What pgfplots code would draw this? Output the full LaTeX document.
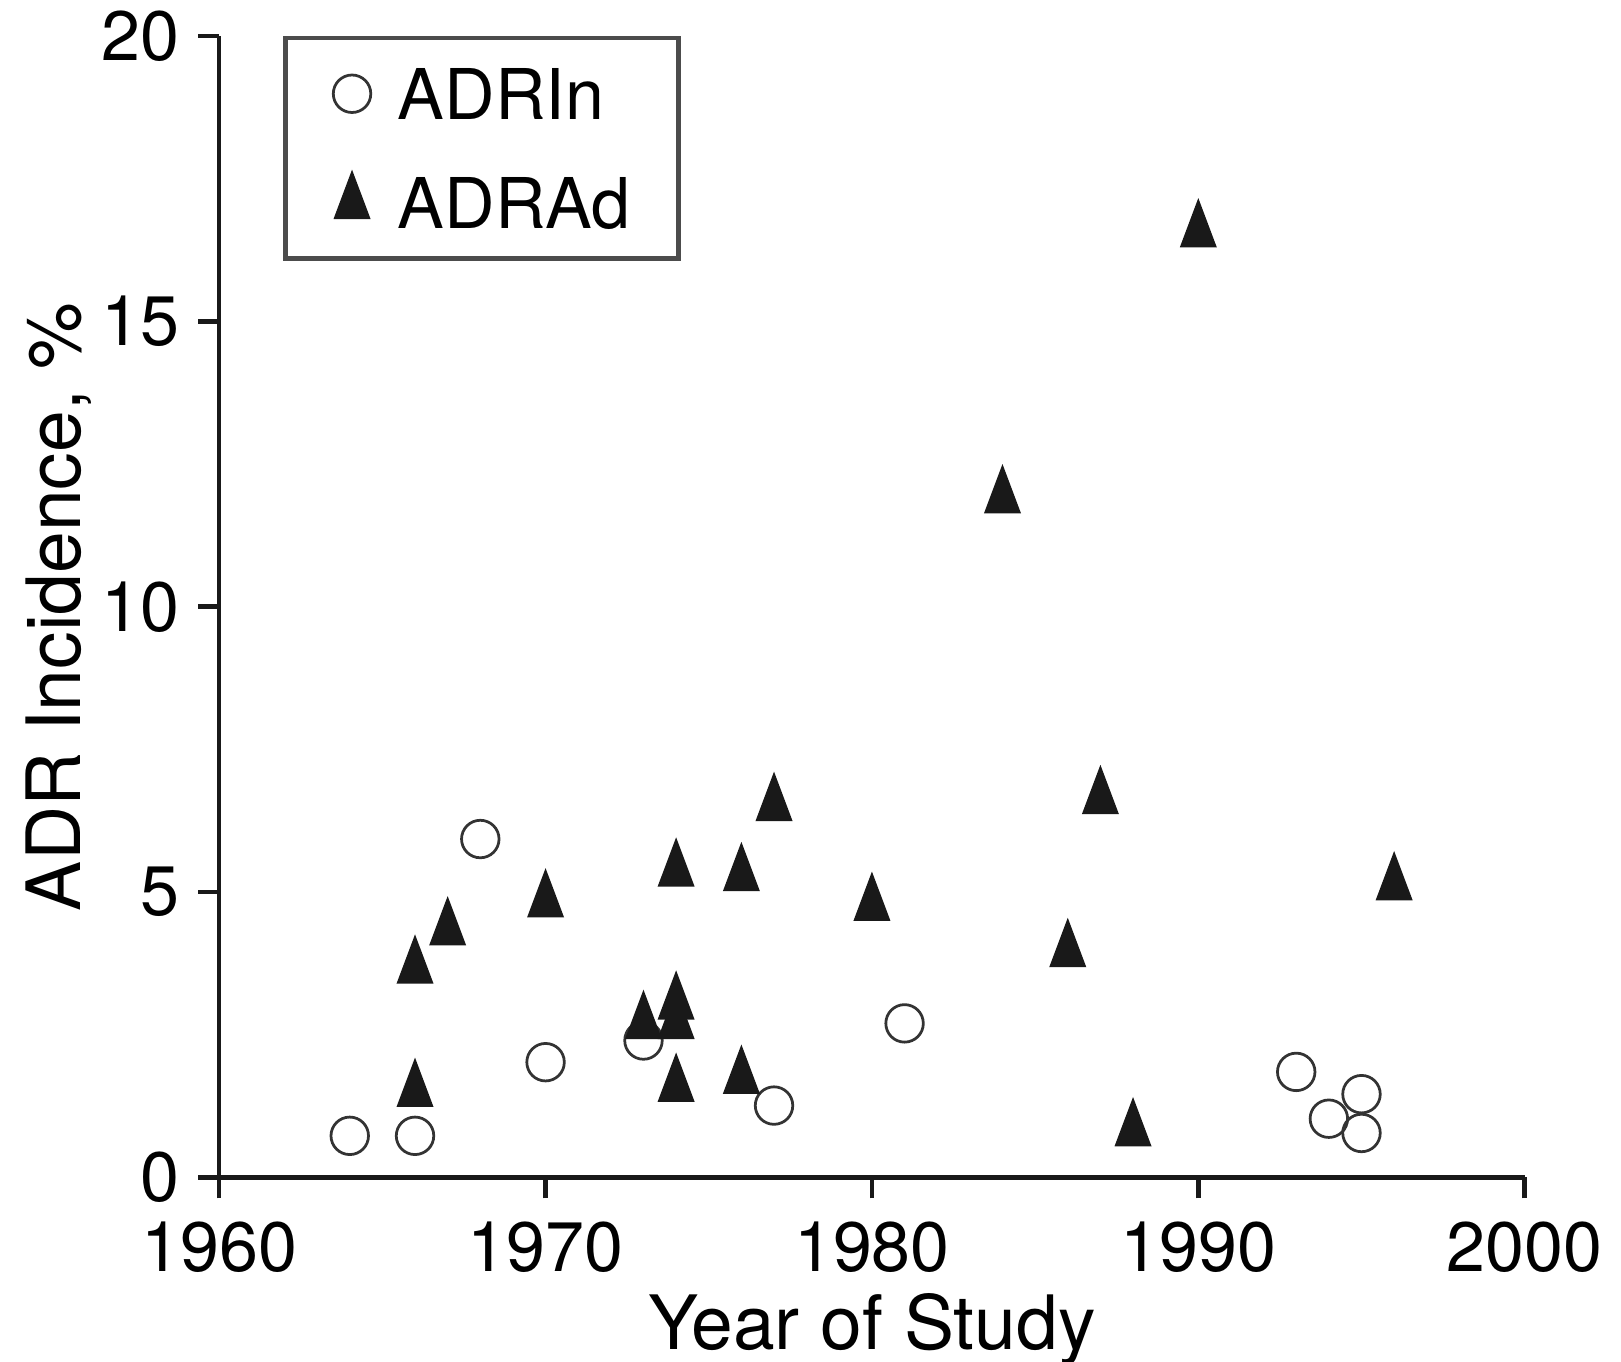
\documentclass[border=0pt]{standalone}
\usepackage{fontspec}
\setmainfont{TeX Gyre Heros}
\usepackage{pgfplots}
\pgfplotsset{compat=1.18}

\begin{document}
\begin{tikzpicture}
\useasboundingbox (-43.84pt,-36.9pt) rectangle (280.36pt,235.5pt);
\begin{axis}[
    scale only axis,
    width=261.1pt, height=228.3pt,
    xmin=1960, xmax=2000,
    ymin=0, ymax=20,
    xtick={1960,1970,1980,1990,2000},
    ytick={0,5,10,15,20},
    axis x line*=bottom, axis y line*=left,
    axis line style={line width=0.9pt, black!90},
    tick style={line width=0.9pt, black!90},
    tick align=outside,
    major tick length=4.2pt,
    /pgf/number format/assume math mode=true,
    /pgf/number format/1000 sep={},
    tick label style={font=\fontsize{14}{16}\selectfont},
    xticklabel style={anchor=base, inner sep=0pt, yshift=-14.6pt},
    yticklabel style={anchor=east, inner sep=0pt, xshift=-3.6pt},
    xlabel={Year of Study},
    ylabel={ADR Incidence, \%},
    label style={font=\fontsize{15}{17}\selectfont, inner sep=0pt},
    xlabel style={at={(axis description cs:0.5,-0.1511)}, anchor=base},
    ylabel style={at={(axis description cs:-0.1061,0.5)}, anchor=base},
    legend style={
        at={(axis description cs:0.0489,1)}, anchor=north west,
        draw=black!70, line width=0.9pt,
        inner xsep=9.6pt, inner ysep=6pt,
        row sep=10.5pt, column sep=5.4pt,
        font=\fontsize{14}{16}\selectfont,
        nodes={inner sep=0pt, text depth=0pt},
    },
    legend cell align={left},
    legend image code/.code={\draw[#1] plot coordinates {(0pt,0pt)};},
]
\addplot[only marks, mark=o, mark size=3.75pt,
    mark options={draw=black!80, line width=0.55pt}] coordinates {
    (1964,0.73) (1966,0.73) (1968,5.93) (1970,2.02) (1973,2.40)
    (1977,1.26) (1981,2.70) (1993,1.85) (1994,1.03) (1995,1.46) (1995,0.78)
};
\addlegendentry{ADRIn}
\addplot[only marks, mark=triangle*, mark size=6.2pt,
    mark options={xscale=0.65, fill=black!90, draw=black!90, line width=0.3pt}] coordinates {
    (1966,3.68) (1966,1.52) (1967,4.35) (1970,4.84) (1973,2.71)
    (1974,3.05) (1974,2.71) (1974,1.61) (1974,5.38) (1976,5.30)
    (1976,1.75) (1977,6.53) (1980,4.78) (1984,11.92) (1986,3.97)
    (1987,6.65) (1988,0.83) (1990,16.58) (1996,5.14)
};
\addlegendentry{ADRAd}
\end{axis}
\end{tikzpicture}
\end{document}
